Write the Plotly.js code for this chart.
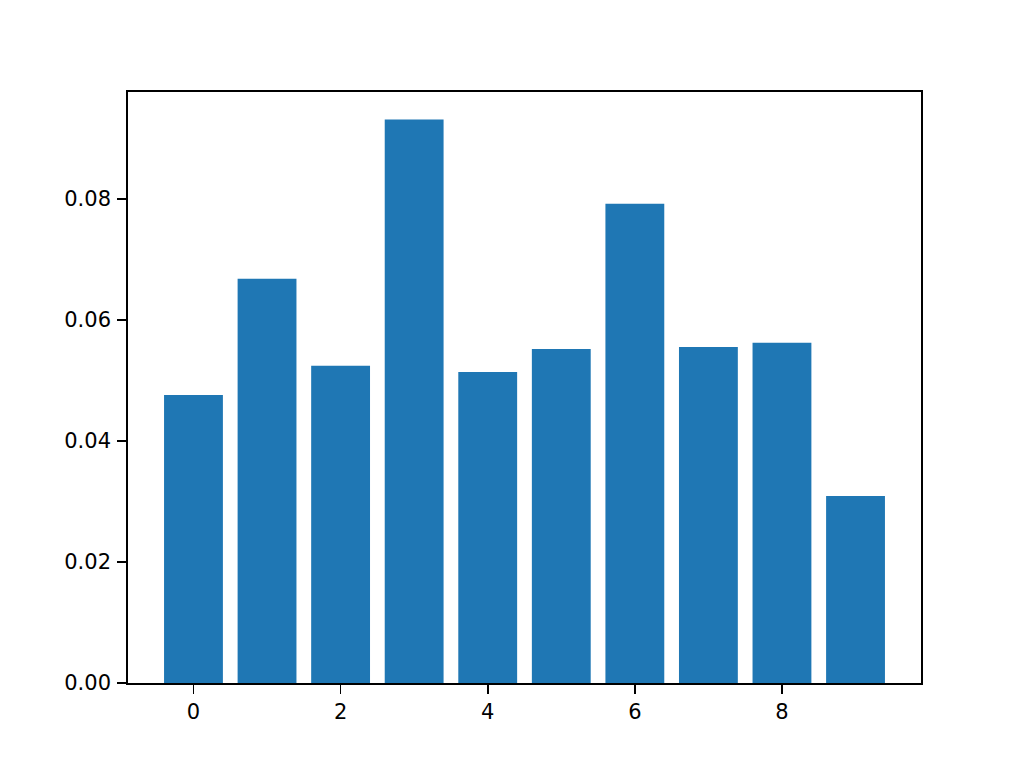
<!DOCTYPE html>
<html>
<head>
<meta charset="utf-8">
<script src="https://cdn.plot.ly/plotly-3.0.1.min.js"></script>
<style>
  html, body { margin: 0; padding: 0; background: #fff; }
  #chart { width: 1024px; height: 768px; }
</style>
</head>
<body>
<div id="chart"></div>
<script>
// bar chart, ten bins
var positions = [0, 1, 2, 3, 4, 5, 6, 7, 8, 9];
var heights = [0.0476, 0.0668, 0.0524, 0.0931, 0.0514, 0.0552, 0.0792, 0.0555, 0.0562, 0.0309];
var xTicks = [0, 2, 4, 6, 8];
var yTicks = [0, 0.02, 0.04, 0.06, 0.08];
var yTickText = ['0.00', '0.02', '0.04', '0.06', '0.08'];

var trace = {
    x: positions,
    y: heights,
    type: 'bar',
    width: 0.8,
    marker: {color: '#1f77b4', line: {width: 0}},
    hoverinfo: 'x+y'
};

var axisStyle = {
    showgrid: false,
    zeroline: false,
    showline: true,
    linecolor: '#000',
    linewidth: 1.8,
    mirror: true,
    ticks: 'outside',
    ticklen: 9,
    tickwidth: 1.8,
    tickcolor: '#000',
    tickfont: {family: 'DejaVu Sans', size: 21, color: '#000'}
};

var layout = {
    width: 1024,
    height: 768,
    showlegend: false,
    paper_bgcolor: '#fff',
    plot_bgcolor: '#fff',
    margin: {l: 128, r: 103, t: 92, b: 85, pad: 0},
    xaxis: Object.assign({}, axisStyle, {
        range: [-0.89, 9.89],
        tickmode: 'array',
        tickvals: xTicks,
        ticklabelstandoff: 0
    }),
    yaxis: Object.assign({}, axisStyle, {
        range: [0, 0.09765],
        tickmode: 'array',
        tickvals: yTicks,
        ticktext: yTickText,
        ticklabelstandoff: 2
    })
};

Plotly.newPlot('chart', [trace], layout, {displayModeBar: false, staticPlot: true});
</script>
</body>
</html>
